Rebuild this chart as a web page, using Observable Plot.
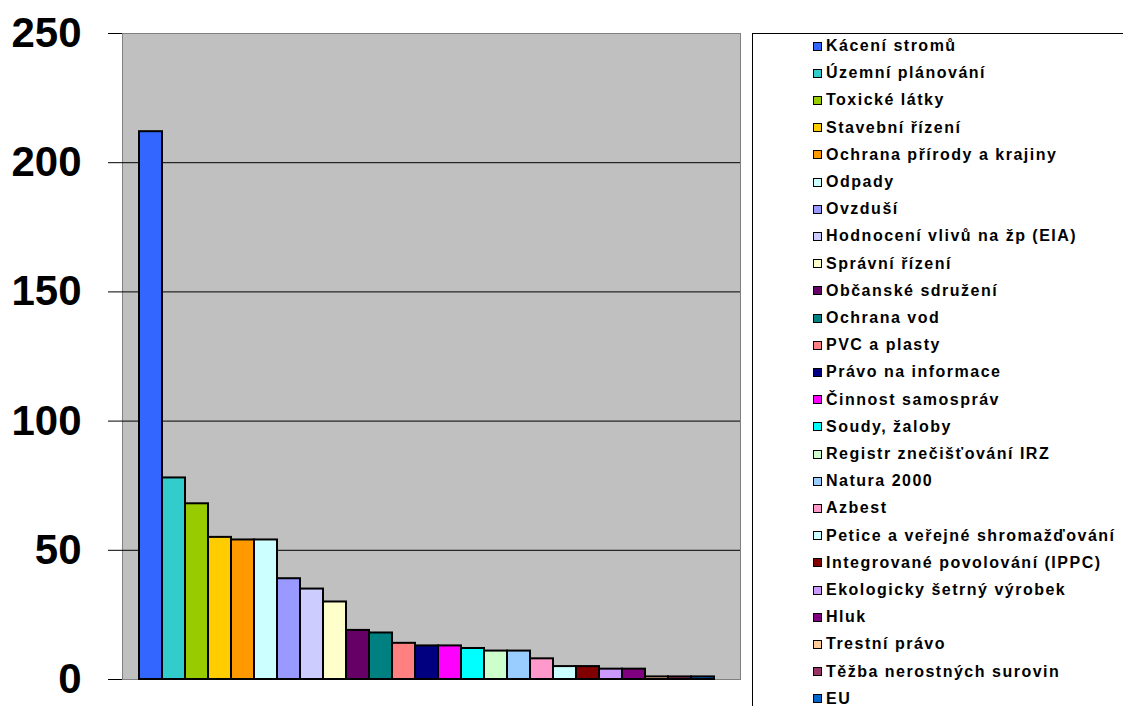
<!DOCTYPE html>
<html>
<head>
<meta charset="utf-8">
<script src="https://cdn.jsdelivr.net/npm/d3@7"></script>
<script src="https://cdn.jsdelivr.net/npm/@observablehq/plot@0.6"></script>
<style>
  html, body { margin: 0; padding: 0; background: #fff; overflow: hidden; }
  body { width: 1123px; height: 706px; position: relative; font-family: "Liberation Sans", Arial, sans-serif; }
  #chart { position: absolute; left: 0; top: 0; }
  #legend { position: absolute; left: 752px; top: 33px; width: 400px; height: 720px; border: 1px solid #000; box-sizing: border-box; background: #fff; }
  .row { position: absolute; left: 60px; height: 20px; display: flex; align-items: center; font-weight: bold; font-size: 16px; letter-spacing: 1.5px; color: #000; white-space: pre; }
  .sw { width: 7px; height: 7px; border: 1px solid #000; margin-right: 4px; flex: none; }
</style>
</head>
<body>
<div id="chart"></div>
<div id="legend"></div>
<script>
const categories = [
  "Kácení stromů", "Územní plánování", "Toxické látky", "Stavební řízení",
  "Ochrana přírody a krajiny", "Odpady", "Ovzduší", "Hodnocení vlivů na žp (EIA)",
  "Správní řízení", "Občanské sdružení", "Ochrana vod", "PVC a plasty",
  "Právo na informace", "Činnost samospráv", "Soudy, žaloby", "Registr znečišťování IRZ",
  "Natura 2000", "Azbest", "Petice a veřejné shromažďování", "Integrované povolování (IPPC)",
  "Ekologicky šetrný výrobek", "Hluk", "Trestní právo", "Těžba nerostných surovin", "EU"
];
const values = [212, 78, 68, 55, 54, 54, 39, 35, 30, 19, 18, 14, 13, 13, 12, 11, 11, 8, 5, 5, 4, 4, 1, 1, 1];
const colors = [
  "#3366FF", "#33CCCC", "#99CC00", "#FFCC00", "#FF9900", "#CCFFFF", "#9999FF", "#CCCCFF",
  "#FFFFCC", "#660066", "#008080", "#FF8080", "#000080", "#FF00FF", "#00FFFF", "#CCFFCC",
  "#99CCFF", "#FF99CC", "#CCFFFF", "#800000", "#CC99FF", "#800080", "#FFCC99", "#993366", "#0066CC"
];
const yTicks = [0, 50, 100, 150, 200, 250];
const gridTicks = [50, 100, 150, 200];

const data = categories.map((c, i) => ({category: c, value: values[i], color: colors[i]}));

const chart = Plot.plot({
  width: 750,
  height: 706,
  marginTop: 33,
  marginBottom: 27,
  marginLeft: 122,
  marginRight: 10,
  style: {fontFamily: "'Liberation Sans', Arial, sans-serif", background: "#fff", overflow: "visible"},
  x: {domain: categories, paddingInner: 0, paddingOuter: 0.9, align: 0.4, axis: null},
  y: {domain: [0, 250], label: null},
  marks: [
    Plot.frame({fill: "#C0C0C0", stroke: "#808080"}),
    Plot.ruleY(gridTicks, {stroke: "#000", strokeWidth: 1}),
    Plot.barY(data, {x: "category", y: "value", fill: "color", stroke: "#000", strokeWidth: 2}),
    Plot.ruleX([0], {frameAnchor: "left", stroke: "#000"}),
    Plot.axisY({ticks: yTicks, label: null, tickSize: 14, tickPadding: 27, fontSize: 42, fontWeight: "bold", tickFormat: d => String(d), stroke: "#000", color: "#000"})
  ]
});
document.getElementById("chart").appendChild(chart);

const legend = document.getElementById("legend");
categories.forEach((c, i) => {
  const row = document.createElement("div");
  row.className = "row";
  row.style.top = (2 + i * 27.2) + "px";
  const sw = document.createElement("span");
  sw.className = "sw";
  sw.style.background = colors[i];
  const t = document.createElement("span");
  t.textContent = c;
  row.appendChild(sw);
  row.appendChild(t);
  legend.appendChild(row);
});
</script>
</body>
</html>
